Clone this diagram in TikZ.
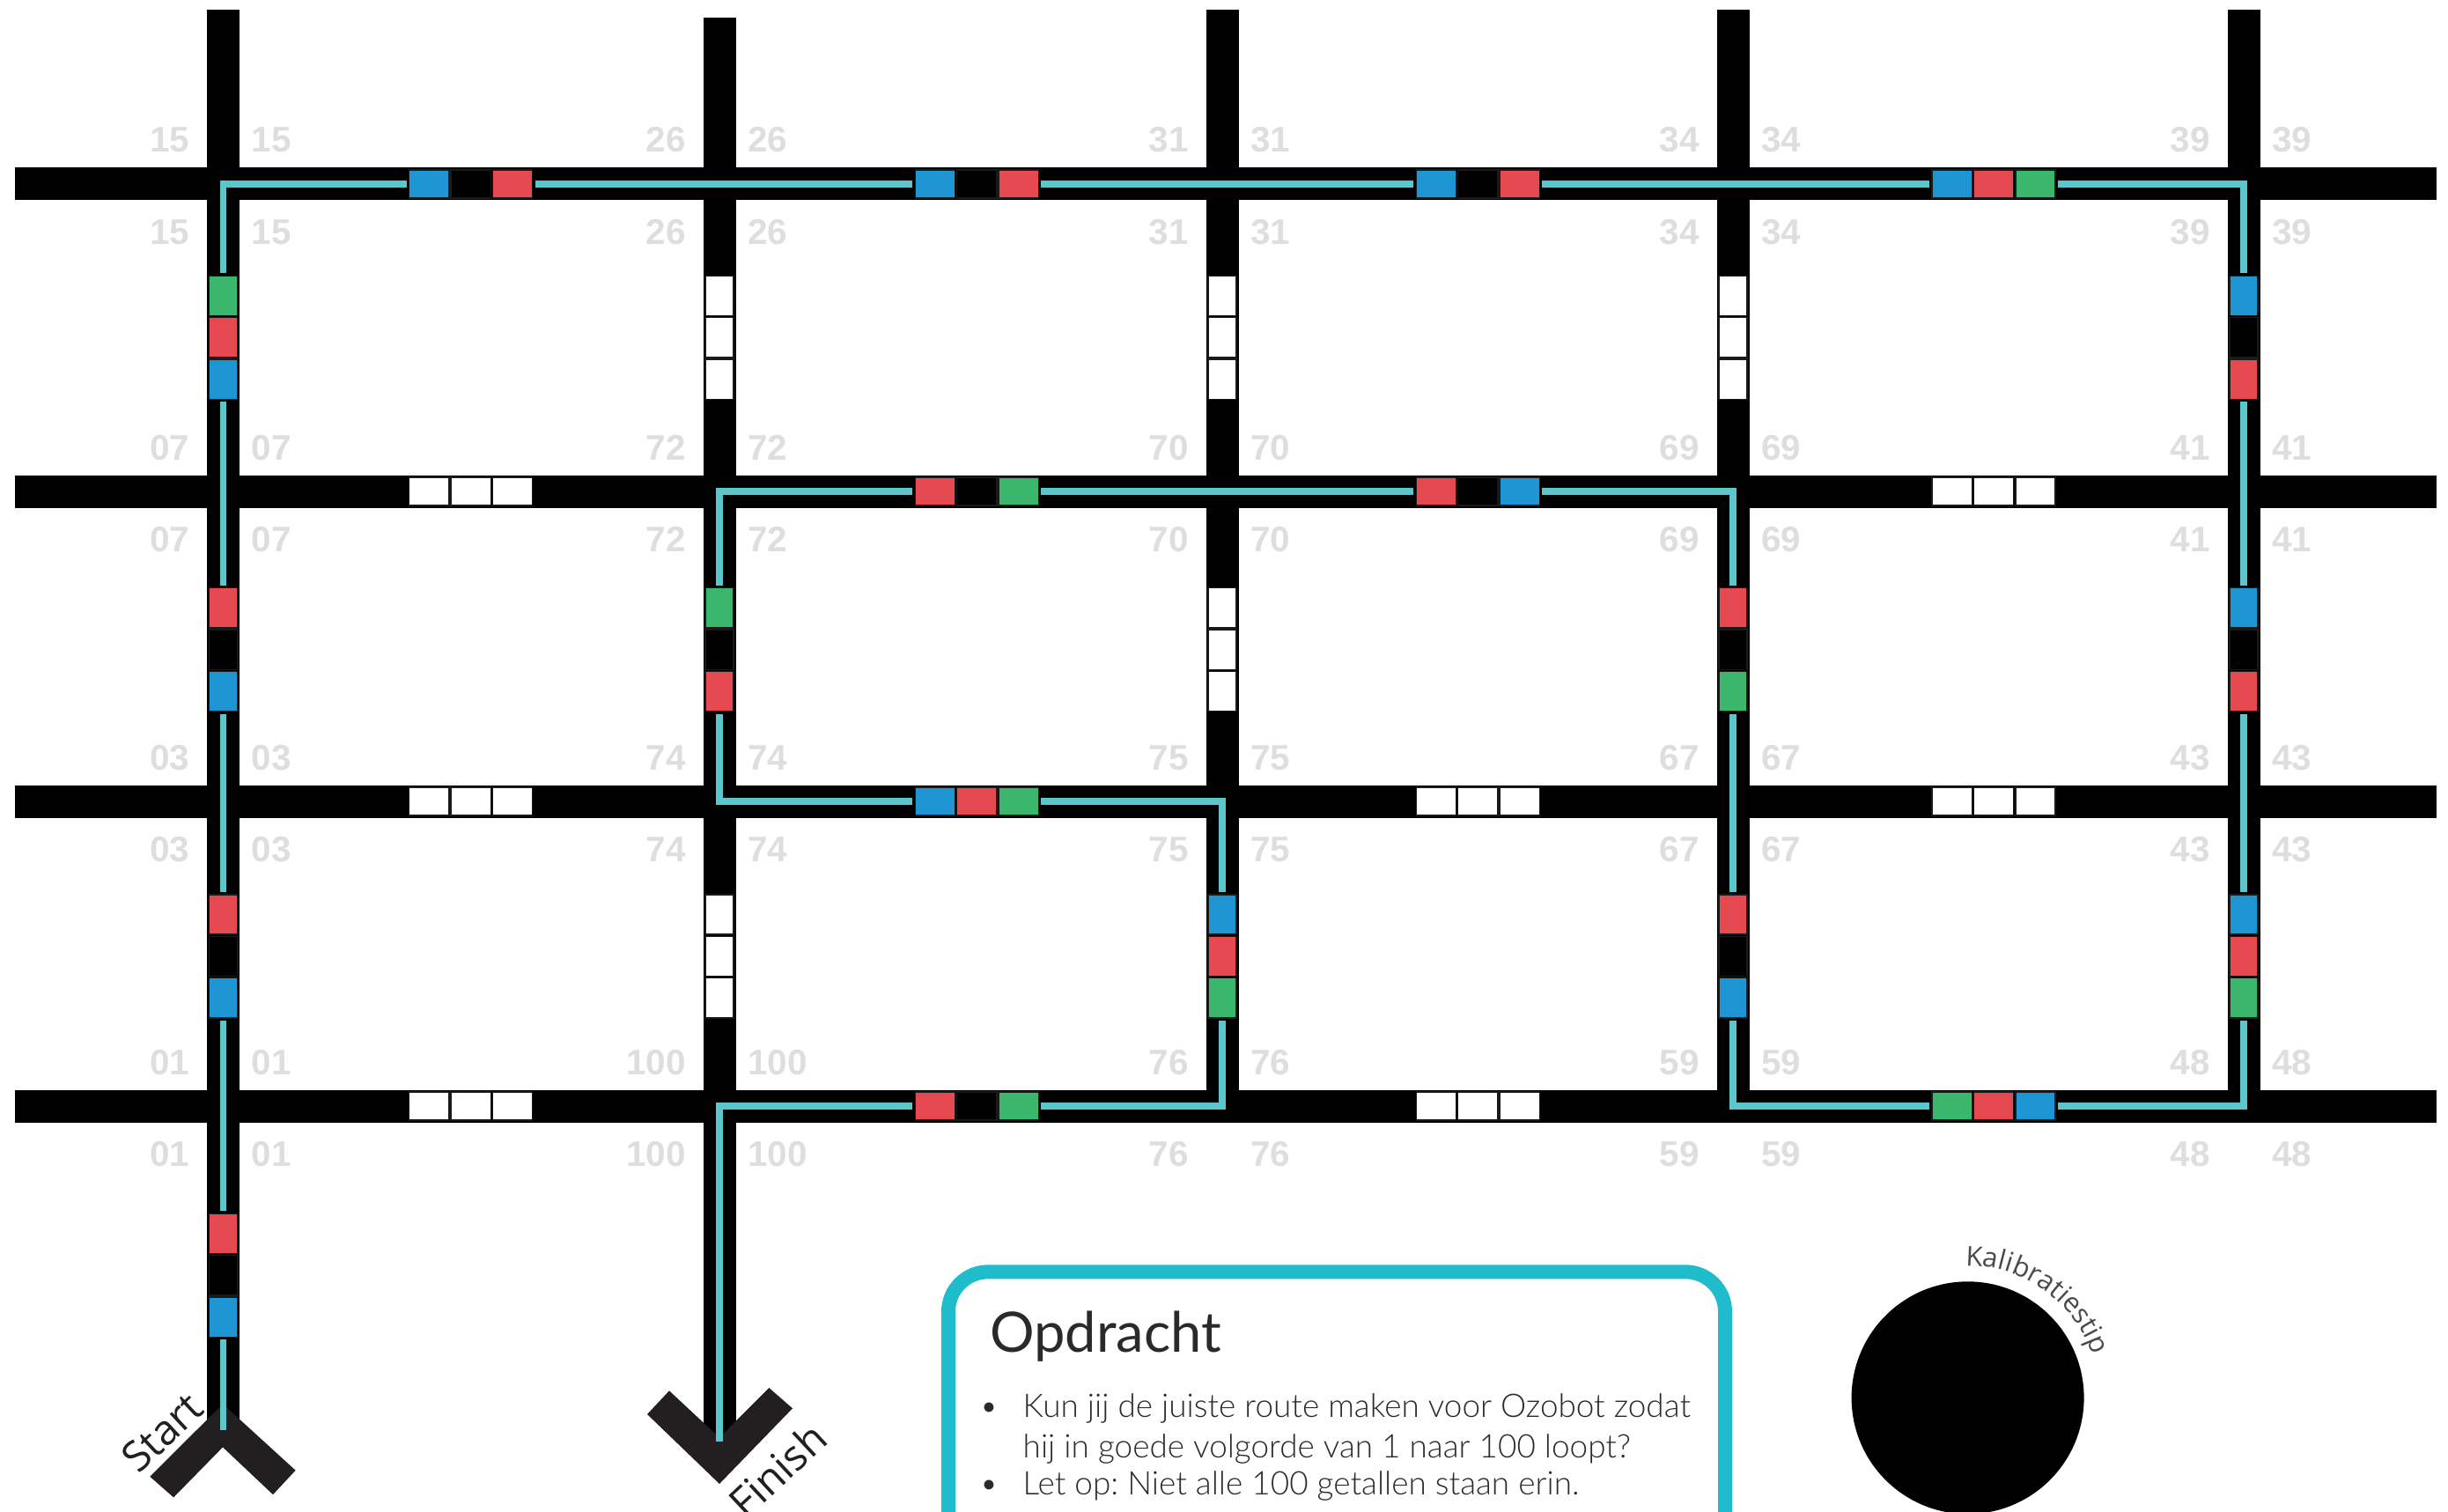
\documentclass[tikz,border=0pt]{standalone}
\usepackage{fontspec}
\setmainfont{Lato}
\newfontfamily\latolight{Lato Light}
\newfontfamily\labelfont{Liberation Sans}
\newfontfamily\opensans{Open Sans}
\usetikzlibrary{decorations.text}
\frenchspacing
\definecolor{roadink}{HTML}{000000}
\definecolor{chevron}{HTML}{231F20}
\definecolor{routecyan}{HTML}{5BC6CC}
\definecolor{boxcyan}{HTML}{1FBCCC}
\definecolor{labelgray}{HTML}{DEDEDE}
\definecolor{kaligray}{HTML}{4A4A4A}
\definecolor{bodyink}{HTML}{2A2A2A}
\definecolor{tileline}{HTML}{1A1A1A}
\definecolor{tileb}{HTML}{1E96D4}
\definecolor{tiler}{HTML}{E64A50}
\definecolor{tileg}{HTML}{3AB76D}
\definecolor{tilew}{HTML}{FFFFFF}
\definecolor{tilen}{HTML}{000000}

\begin{document}
\begin{tikzpicture}[
  x=1cm,
  y=1cm,
  every node/.style={inner sep=0pt},
  road/.style={roadink, line width=3.7mm},
  route/.style={routecyan, line width=0.75mm, line join=miter},
  tileedge/.style={draw=tileline, line width=0.4pt},
  numlabel/.style={font=\labelfont\bfseries\fontsize{11.5}{12}\selectfont, text=labelgray},
  marktext/.style={font=\opensans\fontsize{13.5}{15}\selectfont, text=chevron, rotate=43},
  bodytext/.style={font=\latolight\fontsize{10.5}{13}\selectfont, text=bodyink, anchor=base west}
]
  \useasboundingbox (0,0) rectangle (27.8,17.16);
  \clip (0,0) rectangle (27.8,17.16);

  % ---- crossings of the grid ---------------------------------------------
  \foreach \x [count=\i] in {2.535,8.17,13.88,19.68,25.48}
    \foreach \y [count=\j] in {15.07,11.58,8.06,4.60}
      \coordinate (p\i\j) at (\x,\y);

  % ---- black roads -------------------------------------------------------
  \foreach \y in {15.07,11.58,8.06,4.60}
    \draw[road] (0.172,\y) -- (27.67,\y);
  \draw[road] (2.535,17.045) -- (2.535,0.95);
  \draw[road] (8.17,16.96) -- (8.17,0.85);
  \foreach \x in {13.88,19.68,25.48}
    \draw[road] (\x,17.045) -- (\x,4.415);

  % ---- start and finish chevrons -----------------------------------------
  \fill[chevron] (2.53,1.217) -- (3.356,0.463) -- (3.10,0.188) -- (2.53,0.726)
    -- (1.971,0.156) -- (1.703,0.392) -- cycle;
  \fill[chevron] (8.17,0.31) -- (9.00,1.167) -- (8.733,1.40) -- (8.17,0.835)
    -- (7.60,1.367) -- (7.35,1.10) -- cycle;

  % ---- the route of the robot --------------------------------------------
  \coordinate (go) at (2.535,0.922);
  \coordinate (stop) at (8.17,0.787);
  \draw[route] (go) -- (p11) -- (p51) -- (p54) -- (p44) -- (p42) -- (p22)
    -- (p23) -- (p33) -- (p34) -- (p24) -- (stop);

  % ---- colour codes on the horizontal roads ------------------------------
  \foreach \x/\y/\a/\b/\c in {
      5.346/15.07/b/n/r, 11.092/15.07/b/n/r, 16.783/15.07/b/n/r, 22.641/15.07/b/r/g,
      5.346/11.58/w/w/w, 11.092/11.58/r/n/g, 16.783/11.58/r/n/b, 22.641/11.58/w/w/w,
      5.346/8.06/w/w/w, 11.092/8.06/b/r/g, 16.783/8.06/w/w/w, 22.641/8.06/w/w/w,
      5.346/4.60/w/w/w, 11.092/4.60/r/n/g, 16.783/4.60/w/w/w, 22.641/4.60/g/r/b}
  {
    \fill[roadink] (\x-0.73,\y-0.185) rectangle (\x+0.73,\y+0.185);
    \foreach \t [count=\k from -1] in {\a,\b,\c}
      \filldraw[tileedge, fill=tile\t] ({\x+(\k)*0.474-0.226},\y-0.16) rectangle ++(0.452,0.32);
  }

  % ---- colour codes on the vertical roads (top to bottom) ----------------
  \foreach \x/\y/\a/\b/\c in {
      2.535/13.327/g/r/b, 2.535/9.784/r/n/b, 2.535/6.301/r/n/b, 2.535/2.677/r/n/b,
      8.17/13.327/w/w/w, 8.17/9.784/g/n/r, 8.17/6.301/w/w/w,
      13.88/13.327/w/w/w, 13.88/9.784/w/w/w, 13.88/6.301/b/r/g,
      19.68/13.327/w/w/w, 19.68/9.784/r/n/g, 19.68/6.301/r/n/b,
      25.48/13.327/b/n/r, 25.48/9.784/b/n/r, 25.48/6.301/b/r/g}
  {
    \fill[roadink] (\x-0.185,\y-0.73) rectangle (\x+0.185,\y+0.73);
    \foreach \t [count=\k from -1] in {\a,\b,\c}
      \filldraw[tileedge, fill=tile\t] (\x-0.16,{\y-(\k)*0.474-0.226}) rectangle ++(0.32,0.452);
  }

  % ---- numbers at every crossing -----------------------------------------
  \foreach \p/\n in {p11/15, p21/26, p31/31, p41/34, p51/39,
                     p12/07, p22/72, p32/70, p42/69, p52/41,
                     p13/03, p23/74, p33/75, p43/67, p53/43,
                     p14/01, p24/100, p34/76, p44/59, p54/48}
  {
    \node[numlabel, anchor=base east] (n\n-a) at ([shift={(-0.375,0.36)}]\p) {\n};
    \node[numlabel, anchor=base west] (n\n-b) at ([shift={(0.315,0.36)}]\p) {\n};
    \node[numlabel, anchor=base east] (n\n-c) at ([shift={(-0.375,-0.685)}]\p) {\n};
    \node[numlabel, anchor=base west] (n\n-d) at ([shift={(0.315,-0.685)}]\p) {\n};
  }

  \node[marktext] (start) at (1.84,0.895) {Start};
  \node[marktext] (finish) at (8.83,0.47) {Finish};

  % ---- task box ----------------------------------------------------------
  \draw[boxcyan, line width=1.6mm, rounded corners=4.5mm]
    (10.77,-0.8) rectangle (19.59,2.717);

  \node[font=\fontsize{18}{20}\selectfont, text=bodyink, anchor=base west]
    (title) at (11.233,1.81) {Opdracht};
  \node[bodytext, anchor=base] (dot1) at (11.23,1.067) {\textbullet};
  \node[bodytext] (line1) at (11.61,1.067) {Kun jij de juiste route maken voor Ozobot zodat};
  \node[bodytext] (line2) at (11.61,0.61) {hij in goede volgorde van 1 naar 100 loopt?};
  \node[bodytext, anchor=base] (dot2) at (11.23,0.183) {\textbullet};
  \node[bodytext] (line3) at (11.61,0.183) {Let op: Niet alle 100 getallen staan erin.};

  % ---- calibration dot ---------------------------------------------------
  \node[circle, fill=black, minimum size=2.64cm] (kalidot) at (22.346,1.287) {};
  \path[decorate, decoration={text along path, text align=left, text color=kaligray,
      text={|\opensans\fontsize{8.8}{10}\selectfont|Kalibratiestip}}]
    (kalidot.center) ++(91:1.50) arc[start angle=91, end angle=5, radius=1.50];
\end{tikzpicture}
\end{document}
